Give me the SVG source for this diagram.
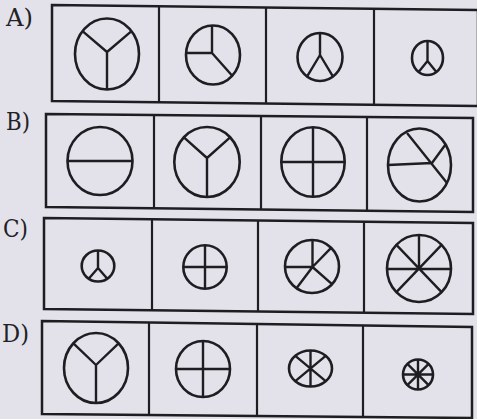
<svg xmlns="http://www.w3.org/2000/svg" width="477" height="419" viewBox="0 0 477 419">
<style>
.box{fill:none;stroke:#1e1e22;stroke-width:2.5;stroke-linejoin:miter}
.div{stroke:#1e1e22;stroke-width:2.2}
.c{fill:none;stroke:#1e1e22;stroke-width:2.6}
.s{fill:none;stroke:#1e1e22;stroke-width:2.4;stroke-linecap:butt;stroke-linejoin:round}
.lbl{font-family:"DejaVu Serif","Liberation Serif",serif;font-size:25px;fill:#222226}
</style>
<rect x="0" y="0" width="477" height="419" fill="#e3e2ea"/>
<g id="labels">
<text class="lbl" x="6" y="26" textLength="27" lengthAdjust="spacingAndGlyphs">A)</text>
<text class="lbl" x="6" y="130" textLength="24" lengthAdjust="spacingAndGlyphs">B)</text>
<text class="lbl" x="3" y="237" textLength="25" lengthAdjust="spacingAndGlyphs">C)</text>
<text class="lbl" x="2" y="342" textLength="27" lengthAdjust="spacingAndGlyphs">D)</text>
</g>
<g id="frames">
<path class="box" d="M52,5 L478,10 L478,106 L52,101 Z"/>
<line class="div" x1="159" y1="6" x2="159" y2="102"/>
<line class="div" x1="266" y1="7" x2="266" y2="103"/>
<line class="div" x1="374" y1="8" x2="374" y2="105"/>
<path class="box" d="M46,114 L473,118 L473,212 L46,207 Z"/>
<line class="div" x1="154" y1="115" x2="154" y2="208"/>
<line class="div" x1="261" y1="116" x2="261" y2="209"/>
<line class="div" x1="367" y1="117" x2="367" y2="211"/>
<path class="box" d="M44,218 L473,223 L473,314 L44,309 Z"/>
<line class="div" x1="152" y1="219" x2="152" y2="310"/>
<line class="div" x1="258" y1="220" x2="258" y2="311"/>
<line class="div" x1="364" y1="222" x2="364" y2="313"/>
<path class="box" d="M42,321 L472,327 L472,418 L42,414 Z"/>
<line class="div" x1="149" y1="322" x2="149" y2="415"/>
<line class="div" x1="257" y1="324" x2="257" y2="416"/>
<line class="div" x1="363" y1="325" x2="363" y2="417"/>
</g>
<g id="A1"><ellipse class="c" cx="107" cy="54" rx="32" ry="35.5"/><path class="s" d="M82.5,31.2 L107,52 L131.5,31.2 M107,52 L107,89.5"/></g>
<g id="A2"><ellipse class="c" cx="213" cy="55" rx="27" ry="29.5"/><path class="s" d="M212,25.5 L212,53 L186,53 M212,53 L232,75.5"/></g>
<g id="A3"><ellipse class="c" cx="320" cy="57" rx="22.5" ry="24"/><path class="s" d="M320,33 L320,55 L307,76.6 M320,55 L333,76.6"/></g>
<g id="A4"><ellipse class="c" cx="427.5" cy="58" rx="15.5" ry="17"/><path class="s" d="M427.5,41 L427.5,61 L418.6,71.9 M427.5,61 L436.4,71.9"/></g>
<g id="B1"><ellipse class="c" cx="100" cy="161" rx="32.5" ry="34"/><path class="s" d="M67.5,161 L132.5,161"/></g>
<g id="B2"><ellipse class="c" cx="207" cy="162" rx="32.7" ry="35"/><path class="s" d="M183.9,137.3 L207,158 L230.1,137.3 M207,158 L207,197"/></g>
<g id="B3"><ellipse class="c" cx="313" cy="162" rx="31.7" ry="34.7"/><path class="s" d="M313,127.3 L313,196.7 M281.3,162 L344.7,162"/></g>
<g id="B4"><ellipse class="c" cx="419.5" cy="165" rx="31.5" ry="36.5"/><path class="s" d="M407,133 L447,183 M388,165 L432,163 L445.5,144.5"/></g>
<g id="C1"><ellipse class="c" cx="98" cy="266" rx="16.3" ry="15.5"/><path class="s" d="M98,250.5 L98,268 L88.7,278.7 M98,268 L107.3,278.7"/></g>
<g id="C2"><ellipse class="c" cx="205" cy="267" rx="21.7" ry="21.7"/><path class="s" d="M205,245.3 L205,288.7 M183.3,267 L226.7,267"/></g>
<g id="C3"><ellipse class="c" cx="312" cy="266.5" rx="27" ry="26.5"/><path class="s" d="M312.5,240 L312.5,267 L285,267 M312.5,267 L331.1,247.8 M312.5,267 L296.5,288.2 M312.5,267 L332,284.2"/></g>
<g id="C4"><ellipse class="c" cx="419" cy="268.5" rx="32" ry="33.5"/><path class="s" d="M419,235 L419,269 M387,269 L451,269 M396.4,244.8 L441.6,292.2 M441.6,244.8 L396.4,292.2"/></g>
<g id="D1"><ellipse class="c" cx="96" cy="368" rx="32" ry="35"/><path class="s" d="M73.4,343.3 L96,365 L118.6,343.3 M96,365 L96,403"/></g>
<g id="D2"><ellipse class="c" cx="203" cy="369" rx="27" ry="28"/><path class="s" d="M203,341 L203,397 M176,369 L230,369"/></g>
<g id="D3"><ellipse class="c" cx="310.5" cy="368.5" rx="21.5" ry="18"/><path class="s" d="M310.5,350.5 L310.5,386.5 M295.3,355.8 L325.7,381.2 M325.7,355.8 L295.3,381.2"/></g>
<g id="D4"><ellipse class="c" cx="418" cy="374.5" rx="15" ry="15"/><path class="s" d="M418,359.5 L418,389.5 M403,374.5 L433,374.5 M407.4,363.9 L428.6,385.1 M428.6,363.9 L407.4,385.1"/></g>
</svg>
